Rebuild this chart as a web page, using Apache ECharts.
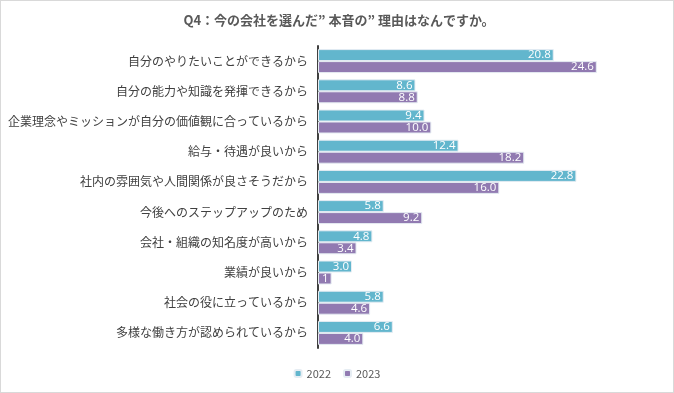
<!DOCTYPE html>
<html><head><meta charset="utf-8">
<script src="https://cdn.jsdelivr.net/npm/echarts@6/dist/echarts.min.js"></script>
<style>html,body{margin:0;padding:0;background:#fff}#c{width:672px;height:391px;border:1px solid #d9d9d9}</style>
</head><body><div id="c"></div>
<script>
const categories = [
  "自分のやりたいことができるから",
  "自分の能力や知識を発揮できるから",
  "企業理念やミッションが自分の価値観に合っているから",
  "給与・待遇が良いから",
  "社内の雰囲気や人間関係が良さそうだから",
  "今後へのステップアップのため",
  "会社・組織の知名度が高いから",
  "業績が良いから",
  "社会の役に立っているから",
  "多様な働き方が認められているから"
];
const values2022 = [20.8, 8.6, 9.4, 12.4, 22.8, 5.8, 4.8, 3.0, 5.8, 6.6];
const values2023 = [24.6, 8.8, 10.0, 18.2, 16.0, 9.2, 3.4, 1.2, 4.6, 4.0];
const labels2022 = ["20.8","8.6","9.4","12.4","22.8","5.8","4.8","3.0","5.8","6.6"];
const labels2023 = ["24.6","8.8","10.0","18.2","16.0","9.2","3.4","1","4.6","4.0"];
const seriesNames = ["2022", "2023"];
const titleText = "Q4：今の会社を選んだ” 本音の” 理由はなんですか。";

const font = "'Noto Sans CJK JP', 'Noto Sans', sans-serif";
const chart = echarts.init(document.getElementById('c'));
function mkSeries(name, vals, labs, color) {
  return {
    name: name, type: 'bar', data: vals, barWidth: 12, barGap: '0%',
    itemStyle: { color: color, borderColor: '#e6edf3', borderWidth: 1 },
    label: { show: true, position: 'insideRight', distance: 3, color: '#fff', fontSize: 11.5,
      fontFamily: "'Open Sans', 'Noto Sans', sans-serif", offset: [0, 0],
      formatter: p => labs[p.dataIndex] },
    animation: false
  };
}
chart.setOption({
  animation: false,
  textStyle: { fontFamily: font },
  title: { text: titleText, left: 333, textAlign: 'center', top: 8,
    textStyle: { fontSize: 13, fontWeight: 'bold', color: '#595959', fontFamily: font } },
  legend: { bottom: 8, left: 'center', itemWidth: 7, itemHeight: 7, itemGap: 12,
    textStyle: { fontSize: 11, color: '#595959', fontFamily: font }, data: seriesNames },
  grid: { left: 317, top: 45, width: 340, height: 302, containLabel: false },
  xAxis: { type: 'value', min: 0, max: 30, show: false },
  yAxis: { type: 'category', data: categories, inverse: true,
    axisLine: { show: true, lineStyle: { color: '#404040', width: 2 } },
    axisTick: { show: false },
    axisLabel: { margin: 10, fontSize: 12, color: '#404040', fontFamily: font } },
  series: [
    mkSeries(seriesNames[0], values2022, labels2022, '#62b6cd'),
    mkSeries(seriesNames[1], values2023, labels2023, '#917ab1')
  ]
});
</script></body></html>
